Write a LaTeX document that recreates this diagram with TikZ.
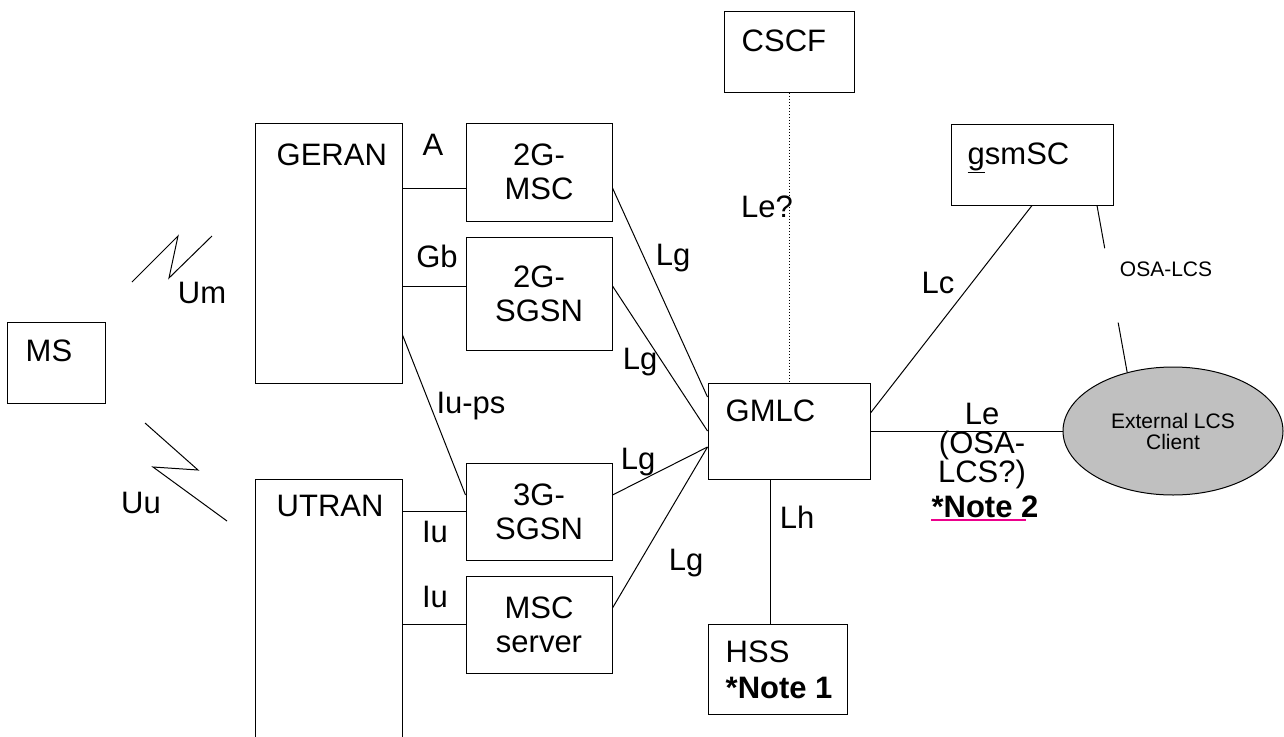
\documentclass[tikz,border=0pt]{standalone}
\usepackage{fontspec}
\setmainfont{Liberation Sans}
\usetikzlibrary{shapes.geometric, calc}
\definecolor{clientgray}{HTML}{C0C0C0}
\tikzset {
    x=1pt, y=-1pt,
    every node/.style={inner sep=0pt, font=\fontsize{31}{34}\selectfont},
    netbox/.style={draw, line width=1pt},
    link/.style={line width=1pt},
    boxname/.style={anchor=base west}
}

\begin{document}
\begin{tikzpicture}
    \useasboundingbox (0,0) rectangle (1284,736);

    % access side
    \node[netbox, minimum width=98pt, minimum height=81pt,
          label={[boxname, xshift=19pt, yshift=-40pt]north west:MS}] (ms) at (56,362.5) {};
    \node[netbox, minimum width=147pt, minimum height=260pt,
          label={[boxname, xshift=22pt, yshift=-43pt]north west:GERAN}] (geran) at (328.5,253) {};
    \node[netbox, minimum width=147pt, minimum height=281pt,
          label={[boxname, xshift=22pt, yshift=-38pt]north west:UTRAN}] (utran) at (328.5,619.5) {};

    % core nodes
    \node[netbox, align=center, minimum width=146pt, minimum height=98pt] (msc2g) at (539,172) {2G-\\MSC};
    \node[netbox, align=center, minimum width=146pt, minimum height=113pt] (sgsn2g) at (539,293.5) {2G-\\SGSN};
    \node[netbox, align=center, minimum width=146pt, minimum height=97pt] (sgsn3g) at (539,511.5) {3G-\\SGSN};
    \node[netbox, align=center, minimum width=146pt, minimum height=97pt] (mscs) at (539,624.5) {MSC\\server};

    \node[netbox, minimum width=130pt, minimum height=81pt,
          label={[boxname, xshift=18pt, yshift=-41pt]north west:CSCF}] (cscf) at (789,51.5) {};
    \node[netbox, minimum width=162pt, minimum height=96pt,
          label={[boxname, xshift=18pt, yshift=-39pt]north west:GMLC}] (gmlc) at (789,431) {};
    \node[netbox, minimum width=162pt, minimum height=81pt,
          label={[boxname, xshift=17pt, yshift=-41pt]north west:\underline{g}smSC}] (gsmsc) at (1032,164.5) {};
    \node[netbox, minimum width=139pt, minimum height=90pt,
          label={[boxname, xshift=18pt, yshift=-39pt]north west:HSS},
          label={[boxname, xshift=18pt, yshift=-75pt]north west:\bfseries *Note 1}] (hss) at (777.5,669) {};
    \node[ellipse, draw, line width=1pt, fill=clientgray, align=center,
          minimum width=220pt, minimum height=128pt,
          font=\fontsize{21}{21}\selectfont] (client) at (1173,431) {External LCS\\Client};

    % radio links
    \draw[link] (132,282) -- (178,236) -- (169,278) -- (212,236);
    \draw[link] (145,423) -- (198,470) -- (153,467) -- (227,521);
    \node[anchor=base] (um) at (202,303) {Um};
    \node[anchor=base] (uu) at (141,513) {Uu};

    % interfaces
    \draw[link] ([yshift=-16pt]msc2g.west) coordinate (ia) -- (ia -| geran.east);
    \draw[link] ([yshift=7.5pt]sgsn2g.west) coordinate (igb) -- (igb -| geran.east);
    \draw[link] ([yshift=-82pt]geran.east) -- ([yshift=16.5pt]sgsn3g.west);
    \draw[link] (sgsn3g.west) -- (sgsn3g.west -| utran.east);
    \draw[link] (mscs.west) -- (mscs.west -| utran.east);
    \node[anchor=base] (lbla) at (433,155) {A};
    \node[anchor=base] (lblgb) at (437,267) {Gb};
    \node[anchor=base] (lbliups) at (471,413) {Iu-ps};
    \node[anchor=base] (lbliu1) at (435,542) {Iu};
    \node[anchor=base] (lbliu2) at (435,607) {Iu};

    \draw[link] ([yshift=-16pt]msc2g.east) -- ([yshift=34pt]gmlc.west);
    \draw[link] ([yshift=7.5pt]sgsn2g.east) -- (gmlc.west);
    \draw[link] ([yshift=16.5pt]sgsn3g.east) -- ([yshift=-16pt]gmlc.west);
    \draw[link] ([yshift=16.5pt]mscs.east) -- ([yshift=-16pt]gmlc.west);
    \node[anchor=base] (lg1) at (673,265) {Lg};
    \node[anchor=base] (lg2) at (640,369) {Lg};
    \node[anchor=base] (lg3) at (638,469) {Lg};
    \node[anchor=base] (lg4) at (686,570) {Lg};

    \draw[dotted, line width=1pt] (cscf.south) -- (gmlc.north);
    \node[anchor=base] (lblle2) at (767,217) {Le?};

    \draw[link] (gsmsc.south) -- ([yshift=18pt]gmlc.east);
    \node[anchor=base] (lc) at (938,293) {Lc};

    \draw[link] ([xshift=-7.5pt]hss.north) coordinate (ih) -- (ih |- gmlc.south);
    \node[anchor=base] (lh) at (797,528) {Lh};

    \draw[link] (gmlc.east) -- (client.west);
    \node[anchor=north, align=center, font=\fontsize{31}{29}\selectfont] (lblle) at (982,403) {Le\\(OSA-\\LCS?)};
    \node[anchor=base] (note2) at (985,517) {\bfseries *Note 2};
    \draw[magenta, line width=2pt] ([yshift=-2.5pt]note2.base west) -- ([xshift=-13pt, yshift=-2.5pt]note2.base east);

    \coordinate (osa) at ([xshift=65pt]gsmsc.south);
    \draw[link] (osa) -- ($(osa)!0.256!(client.128)$);
    \draw[link] ($(osa)!0.702!(client.128)$) -- (client.128);
    \node[anchor=base, font=\fontsize{21}{21}\selectfont] (lblosa) at (1166,276) {OSA-LCS};
\end{tikzpicture}
\end{document}
